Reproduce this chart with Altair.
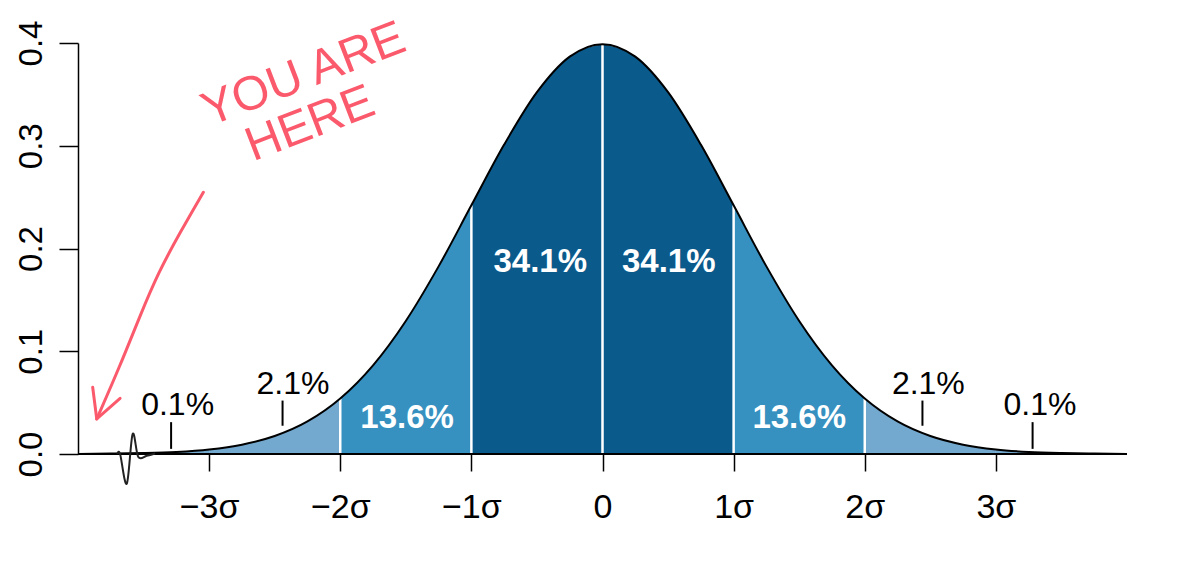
import json
import altair as alt
import pandas as pd

# ---------------- data ----------------
curve_x = [-4.0, -3.75, -3.5, -3.25, -3.0, -2.75, -2.5, -2.25, -2.0, -1.75, -1.5, -1.25,
           -1.0, -0.75, -0.5, -0.25, 0.0, 0.25, 0.5, 0.75, 1.0, 1.25, 1.5, 1.75,
           2.0, 2.25, 2.5, 2.75, 3.0, 3.25, 3.5, 3.75, 4.0]
curve_y = [0.0001, 0.0004, 0.0009, 0.0020, 0.0044, 0.0091, 0.0175, 0.0317, 0.0540, 0.0863,
           0.1295, 0.1826, 0.2420, 0.3011, 0.3521, 0.3867, 0.3989, 0.3867, 0.3521, 0.3011,
           0.2420, 0.1826, 0.1295, 0.0863, 0.0540, 0.0317, 0.0175, 0.0091, 0.0044, 0.0020,
           0.0009, 0.0004, 0.0001]

seg_lo = [-4, -3, -2, -1, 0, 1, 2, 3]
seg_hi = [-3, -2, -1, 0, 1, 2, 3, 4]
seg_band = ["light", "light", "mid", "dark", "dark", "mid", "light", "light"]
band_names = ["light", "mid", "dark"]
band_colors = ["#74a9cf", "#3690c0", "#0b5a8c"]

divider_x = [-2, -1, 0, 1, 2]

tick_values = [-3, -2, -1, 0, 1, 2, 3]
tick_labels = ["\u22123\u03c3", "\u22122\u03c3", "\u22121\u03c3", "0", "1\u03c3", "2\u03c3", "3\u03c3"]
y_ticks = [0.0, 0.1, 0.2, 0.3, 0.4]

# outer percentage labels (black) and their marker strokes
outer_text = ["0.1%", "2.1%", "2.1%", "0.1%"]
outer_text_x = [-3.24, -2.36, 2.485, 3.336]
outer_text_y = [0.038, 0.058, 0.058, 0.038]
marker_x = [-3.29, -2.44, 2.44, 3.28]
marker_y_lo = [0.005, 0.0275, 0.0275, 0.005]
marker_y_hi = [0.031, 0.052, 0.052, 0.031]

# inner percentage labels (white)
inner_text = ["13.6%", "34.1%", "34.1%", "13.6%"]
inner_text_x = [-1.49, -0.475, 0.505, 1.50]
inner_text_y = [0.025, 0.177, 0.177, 0.025]

# hand-drawn annotation
note_text = ["YOU ARE", "HERE"]
note_x = [-2.24, -2.19]
note_y = [0.356, 0.308]
arrow_x = [-3.044, -3.221, -3.387, -3.527, -3.679, -3.857]
arrow_y = [0.2547, 0.2157, 0.1768, 0.1346, 0.0859, 0.0341]
head_x = [-3.888, -3.857, -3.679]
head_y = [0.0649, 0.0341, 0.0542]
squiggle_x = [-3.70, -3.679, -3.628, -3.583, -3.540, -3.476, -3.412]
squiggle_y = [0.0, 0.0, -0.029, 0.0195, -0.003, -0.0017, 0.0005]

# ---------------- tables ----------------
curve_df = pd.DataFrame({"x": curve_x, "y": curve_y})
rows = []
for i, (lo, hi, band) in enumerate(zip(seg_lo, seg_hi, seg_band)):
    for xv, yv in zip(curve_x, curve_y):
        if lo <= xv <= hi:
            rows.append({"x": xv, "y": yv, "band": band, "seg": i})
area_df = pd.DataFrame(rows)

lookup = dict(zip(curve_x, curve_y))
div_df = pd.DataFrame({"x": divider_x, "y": [0.0] * len(divider_x),
                       "y2": [lookup[float(v)] for v in divider_x]})
base_df = pd.DataFrame({"x": [curve_x[0]], "x2": [curve_x[-1]], "y": [0.0]})
outer_df = pd.DataFrame({"x": outer_text_x, "y": outer_text_y, "t": outer_text})
marker_df = pd.DataFrame({"x": marker_x, "y": marker_y_lo, "y2": marker_y_hi})
inner_df = pd.DataFrame({"x": inner_text_x, "y": inner_text_y, "t": inner_text})
note_df = pd.DataFrame({"x": note_x, "y": note_y, "t": note_text})
arrow_df = pd.DataFrame({"x": arrow_x, "y": arrow_y})
head_df = pd.DataFrame({"x": head_x, "y": head_y})
squig_df = pd.DataFrame({"x": squiggle_x, "y": squiggle_y})

# ---------------- scales / axes ----------------
FONT = "Liberation Sans"
xs = alt.Scale(domain=[-4, 4], nice=False, zero=False)
ys = alt.Scale(domain=[0, 0.4], nice=False, zero=False)
label_expr = json.dumps(tick_labels, ensure_ascii=False) + "[datum.value + 3]"
xaxis = alt.Axis(values=tick_values, labelExpr=label_expr, title=None, domain=False,
                 tickSize=17, labelPadding=46, labelBaseline="alphabetic", labelFontSize=34,
                 labelFlush=False, labelOverlap=False, grid=False)
yaxis = alt.Axis(values=y_ticks, format=".1f", title=None, labelAngle=270,
                 labelAlign="center", labelBaseline="alphabetic", tickSize=19,
                 labelPadding=18, labelFontSize=33, labelFlush=False, labelOverlap=False,
                 grid=False)

X = alt.X("x:Q", scale=xs, axis=xaxis)
Y = alt.Y("y:Q", scale=ys, axis=yaxis)

area = alt.Chart(area_df).mark_area(interpolate="monotone").encode(
    x=X,
    y=alt.Y("y:Q", scale=ys, axis=yaxis, stack=None),
    color=alt.Color("band:N", scale=alt.Scale(domain=band_names, range=band_colors), legend=None),
    detail="seg:N",
)

dividers = alt.Chart(div_df).mark_rule(color="white", strokeWidth=2.5).encode(
    x=X, y=Y, y2=alt.Y2("y2:Q"))

line = alt.Chart(curve_df).mark_line(interpolate="monotone", color="black", strokeWidth=2).encode(
    x=X, y=Y)

baseline = alt.Chart(base_df).mark_rule(color="black", strokeWidth=2).encode(
    x=X, x2=alt.X2("x2:Q"), y=Y)

squiggle = alt.Chart(squig_df).mark_line(interpolate="cardinal", color="#222222",
                                          strokeWidth=2).encode(x=X, y=Y)

markers = alt.Chart(marker_df).mark_rule(color="black", strokeWidth=2).encode(
    x=X, y=Y, y2=alt.Y2("y2:Q"))

outer = alt.Chart(outer_df).mark_text(font=FONT, fontSize=32, color="black",
                                      align="center", baseline="alphabetic").encode(
    x=X, y=Y, text="t:N")

inner = alt.Chart(inner_df).mark_text(font=FONT, fontSize=33, fontWeight="bold", color="white",
                                      align="center", baseline="alphabetic").encode(
    x=X, y=Y, text="t:N")

RED = "#fb5a6c"
note = alt.Chart(note_df).mark_text(font=FONT, fontSize=48, color=RED, angle=339,
                                    align="center", baseline="alphabetic").encode(
    x=X, y=Y, text="t:N")

arrow = alt.Chart(arrow_df).mark_line(interpolate="basis", color=RED, strokeWidth=3,
                                      strokeCap="round").encode(x=X, y=Y)
head = alt.Chart(head_df).mark_line(color=RED, strokeWidth=3, strokeCap="round",
                                    strokeJoin="round").encode(x=X, y=Y)

chart = alt.layer(area, dividers, line, baseline, squiggle, markers, outer, inner,
                  note, arrow, head).properties(
    width=1049, height=411,
    autosize=alt.AutoSizeParams(type="none"),
    padding={"left": 70, "top": 35, "right": 10, "bottom": 100},
).configure_view(stroke=None).configure_axis(
    labelFont=FONT, labelColor="black",
    tickColor="black", tickWidth=1.5, domainColor="black", domainWidth=1.5,
)

chart.save("out.html", embed_options={"renderer": "svg", "actions": False})
